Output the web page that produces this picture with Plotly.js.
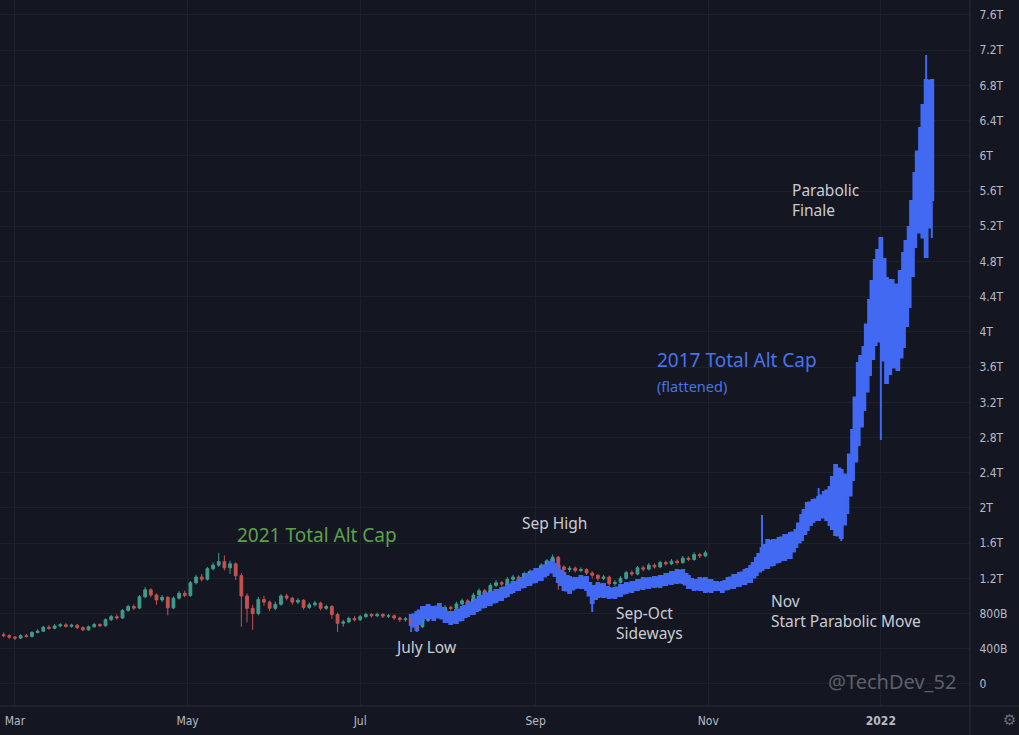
<!DOCTYPE html>
<html>
<head>
<meta charset="utf-8">
<script src="https://cdn.plot.ly/plotly-3.0.1.min.js"></script>
<style>
  html, body { margin: 0; padding: 0; background: #141722; }
  #chart { width: 1019px; height: 735px; }
</style>
</head>
<body>
<div id="chart"></div>
<script>
// 2021 Total Alt Cap, 2-day candles from 2021-02-25 (values in billions USD)
const alt2021Start = '2021-02-25';
const alt2021FirstOpen = 560;
const alt2021Close = [
  550, 532, 522, 548, 540, 585, 600, 645, 632, 660,
  672, 655, 668, 640, 615, 650, 676, 662, 730, 765,
  750, 836, 880, 862, 990, 1070, 1010, 955, 985, 865,
  975, 1030, 1005, 1150, 1215, 1190, 1310, 1350, 1390, 1320,
  1365, 1230, 1000, 860, 800, 960, 930, 860, 905, 1000,
  975, 930, 950, 870, 900, 920, 860, 880, 790, 690,
  705, 745, 730, 765, 790, 775, 790, 770, 775, 750,
  730, 740, 690, 650, 720, 790, 775, 845, 870, 860,
  910, 945, 930, 1010, 1060, 1045, 1120, 1150, 1135, 1190,
  1215, 1200, 1250, 1275, 1260, 1350, 1400, 1440, 1330, 1300,
  1315, 1290, 1300, 1260, 1235, 1200, 1215, 1140, 1155, 1200,
  1265, 1250, 1320, 1305, 1350, 1330, 1380, 1365, 1395, 1380,
  1430, 1415, 1470, 1455, 1490
];
const alt2021High = [
  585, 565, 545, 565, 570, 600, 620, 660, 668, 680,
  692, 690, 685, 680, 655, 665, 695, 690, 745, 785,
  790, 850, 900, 905, 1010, 1100, 1085, 1030, 1010, 1000,
  995, 1055, 1060, 1170, 1240, 1250, 1330, 1380, 1490, 1460,
  1400, 1380, 1260, 1030, 900, 990, 1000, 950, 935, 1020,
  1025, 990, 975, 965, 925, 945, 935, 900, 895, 810,
  730, 765, 770, 785, 810, 805, 810, 805, 795, 790,
  765, 760, 755, 710, 740, 810, 815, 865, 895, 890,
  935, 970, 965, 1035, 1085, 1080, 1145, 1180, 1170, 1215,
  1240, 1235, 1275, 1300, 1295, 1370, 1420, 1470, 1455, 1350,
  1340, 1335, 1325, 1315, 1280, 1250, 1240, 1230, 1180, 1225,
  1285, 1290, 1340, 1345, 1375, 1370, 1400, 1400, 1420, 1415,
  1455, 1450, 1495, 1490, 1515
];
const alt2021Low = [
  530, 515, 500, 510, 525, 530, 575, 590, 615, 620,
  645, 640, 640, 625, 600, 605, 640, 645, 650, 715,
  730, 740, 820, 840, 850, 975, 985, 900, 930, 780,
  850, 960, 985, 990, 1130, 1165, 1175, 1290, 1330, 1290,
  1250, 1180, 650, 700, 615, 780, 890, 830, 840, 890,
  950, 900, 910, 845, 850, 880, 835, 840, 740, 590,
  650, 690, 710, 715, 750, 755, 760, 750, 750, 730,
  705, 710, 665, 620, 635, 705, 750, 760, 830, 835,
  845, 895, 905, 915, 990, 1020, 1030, 1100, 1110, 1120,
  1170, 1180, 1185, 1230, 1235, 1245, 1330, 1385, 1070, 1230,
  1270, 1265, 1270, 1240, 1200, 1170, 1180, 1090, 1115, 1140,
  1185, 1225, 1235, 1280, 1290, 1310, 1315, 1345, 1350, 1355,
  1365, 1395, 1400, 1430, 1440
];

// 2017 Total Alt Cap (flattened), 2-day candles from 2021-07-19 (billions USD)
const alt2017Start = '2021-07-19';
const alt2017BodyTop = [
  784, 818, 875, 897, 875, 909, 841, 818, 841, 875,
  920, 954, 988, 1034, 1045, 1068, 1090, 1125, 1159, 1181,
  1250, 1272, 1306, 1329, 1386, 1409, 1340, 1261, 1215, 1204,
  1227, 1215, 1102, 1147, 1136, 1090, 1090, 1125, 1147, 1159,
  1181, 1204, 1204, 1215, 1227, 1250, 1272, 1295, 1295, 1227,
  1181, 1204, 1204, 1181, 1159, 1159, 1204, 1238, 1261, 1295,
  1340, 1431, 1545, 1636, 1636, 1659, 1693, 1715, 1749, 1920,
  2056, 2090, 2124, 2181, 2238, 2488, 2431, 2352, 2885, 3647,
  3828, 4362, 4817, 5067, 4612, 4590, 4510, 4896, 5191, 5805,
  6316, 6861, 6861
];
const alt2017BodyBottom = [
  670, 613, 727, 750, 727, 761, 704, 682, 693, 727,
  772, 795, 841, 875, 897, 931, 954, 1000, 1045, 1068,
  1102, 1125, 1159, 1181, 1238, 1272, 1159, 1068, 1034, 1090,
  1090, 1068, 920, 988, 988, 977, 977, 1000, 1034, 1045,
  1068, 1079, 1090, 1102, 1102, 1125, 1136, 1147, 1147, 1090,
  1068, 1068, 1045, 1045, 1068, 1045, 1079, 1090, 1113, 1136,
  1159, 1238, 1295, 1318, 1352, 1386, 1409, 1431, 1556, 1636,
  1749, 1840, 1863, 1897, 1806, 1693, 1659, 1943, 2317, 2715,
  3113, 3510, 3851, 3908, 3419, 3601, 3567, 3828, 4283, 4964,
  5271, 4851, 5498
];
const alt2017High = [
  784, 818, 875, 897, 875, 909, 841, 818, 841, 875,
  920, 954, 988, 1034, 1045, 1068, 1090, 1125, 1159, 1181,
  1250, 1272, 1306, 1329, 1386, 1443, 1340, 1261, 1215, 1204,
  1227, 1215, 1102, 1147, 1136, 1090, 1090, 1125, 1147, 1159,
  1181, 1204, 1204, 1215, 1227, 1250, 1272, 1295, 1295, 1227,
  1181, 1204, 1204, 1181, 1159, 1159, 1204, 1238, 1261, 1295,
  1340, 1431, 1920, 1636, 1636, 1659, 1693, 1715, 1749, 1920,
  2056, 2090, 2227, 2181, 2238, 2488, 2431, 2352, 2885, 3647,
  3828, 4362, 4817, 5067, 4612, 4590, 4510, 4896, 5191, 5805,
  6316, 7145, 6861
];
const alt2017Low = [
  591, 591, 727, 750, 727, 761, 704, 682, 693, 727,
  772, 795, 841, 875, 897, 931, 954, 1000, 1045, 1068,
  1102, 1125, 1159, 1181, 1238, 1272, 1159, 1068, 1034, 1090,
  1090, 1068, 818, 988, 988, 977, 977, 1000, 1034, 1045,
  1068, 1079, 1090, 1102, 1102, 1125, 1136, 1147, 1147, 1090,
  1068, 1068, 1045, 1045, 1068, 1045, 1079, 1090, 1113, 1136,
  1159, 1238, 1295, 1318, 1352, 1386, 1409, 1431, 1556, 1636,
  1749, 1840, 1863, 1897, 1806, 1693, 1624, 1943, 2317, 2715,
  3113, 3510, 3851, 2772, 3419, 3601, 3567, 3828, 4283, 4964,
  5271, 4851, 5067
];

// axis ticks
const xTickDates = ['2021-03-01', '2021-05-01', '2021-07-01', '2021-09-01', '2021-11-01', '2022-01-01'];
const xTickLabels = ['Mar', 'May', 'Jul', 'Sep', 'Nov', '<b>2022</b>'];
const yTickValues = [0, 400, 800, 1200, 1600, 2000, 2400, 2800, 3200, 3600, 4000,
  4400, 4800, 5200, 5600, 6000, 6400, 6800, 7200, 7600];
const yTickLabels = ['0', '400B', '800B', '1.2T', '1.6T', '2T', '2.4T', '2.8T', '3.2T', '3.6T', '4T',
  '4.4T', '4.8T', '5.2T', '5.6T', '6T', '6.4T', '6.8T', '7.2T', '7.6T'];

const BG = '#141722';
const GRID = '#1d212c';
const BORDER = '#2a2e39';
const UP = '#3f9c8c';
const DOWN = '#c4524f';
const BLUE = '#4169f2';
const TEXT = '#c9ccd4';
const UI_FONT = 'Noto Sans, Open Sans, DejaVu Sans, sans-serif';

// evenly spaced candle dates, one every two days
function candleDates(start, count) {
    const t0 = Date.parse(start + 'T00:00:00Z');
    const out = [];
    for (let i = 0; i < count; i++) {
        out.push(new Date(t0 + i * 2 * 86400000).toISOString().slice(0, 10));
    }
    return out;
}

const alt2021Open = [alt2021FirstOpen].concat(alt2021Close.slice(0, -1));
const alt2017Dates = candleDates(alt2017Start, alt2017BodyTop.length);

// stepped band under the 2017 candles so the flattened bodies read as one solid strip
const band2017Bottom = {
    type: 'scatter',
    mode: 'lines',
    x: alt2017Dates,
    y: alt2017BodyBottom,
    line: { shape: 'vhv', width: 0, color: BLUE },
    hoverinfo: 'skip',
    showlegend: false,
};
const band2017Top = {
    type: 'scatter',
    mode: 'lines',
    x: alt2017Dates,
    y: alt2017BodyTop,
    line: { shape: 'vhv', width: 0, color: BLUE },
    fill: 'tonexty',
    fillcolor: BLUE,
    hoverinfo: 'skip',
    showlegend: false,
};

const trace2017 = {
    type: 'candlestick',
    name: '2017 Total Alt Cap',
    x: alt2017Dates,
    open: alt2017BodyBottom,
    close: alt2017BodyTop,
    high: alt2017High,
    low: alt2017Low,
    increasing: { line: { color: BLUE, width: 2 }, fillcolor: BLUE },
    decreasing: { line: { color: BLUE, width: 2 }, fillcolor: BLUE },
    hoverinfo: 'skip',
    showlegend: false,
};

const trace2021 = {
    type: 'candlestick',
    name: '2021 Total Alt Cap',
    x: candleDates(alt2021Start, alt2021Close.length),
    open: alt2021Open,
    close: alt2021Close,
    high: alt2021High,
    low: alt2021Low,
    increasing: { line: { color: UP, width: 1 }, fillcolor: UP },
    decreasing: { line: { color: DOWN, width: 1 }, fillcolor: DOWN },
    hoverinfo: 'skip',
    showlegend: false,
};

function note(text, x, y, size, color, extra) {
    return Object.assign({
        text: text,
        xref: 'paper', yref: 'paper',
        x: x, y: y,
        xanchor: 'left', yanchor: 'middle',
        align: 'left',
        showarrow: false,
        font: { family: UI_FONT, size: size, color: color },
    }, extra || {});
}

const layout = {
    width: 1019,
    height: 735,
    paper_bgcolor: BG,
    plot_bgcolor: BG,
    margin: { l: 0, r: 49, t: 0, b: 29 },
    showlegend: false,
    font: { family: 'DejaVu Sans Condensed, Liberation Sans Narrow, DejaVu Sans, sans-serif', size: 12, color: '#b8bbc4' },
    xaxis: {
        type: 'date',
        range: ['2021-02-23 17:00', '2022-02-01 12:00'],
        tickvals: xTickDates,
        ticktext: xTickLabels,
        showgrid: true,
        gridcolor: GRID,
        zeroline: false,
        showline: false,
        ticks: 'outside',
        ticklen: 4,
        tickcolor: BG,
        rangeslider: { visible: false },
        fixedrange: true,
    },
    yaxis: {
        side: 'right',
        range: [-250, 7770],
        tickvals: yTickValues,
        ticktext: yTickLabels,
        showgrid: true,
        gridcolor: GRID,
        zeroline: false,
        showline: false,
        ticks: 'outside',
        ticklen: 6,
        tickcolor: BG,
        fixedrange: true,
    },
    // pane borders: time scale divider runs under the price column too
    shapes: [
        { type: 'line', xref: 'paper', yref: 'paper', x0: 0, x1: 1.06, y0: 0, y1: 0,
          line: { color: BORDER, width: 1 } },
        { type: 'line', xref: 'paper', yref: 'paper', x0: 1, x1: 1, y0: -0.05, y1: 1,
          line: { color: BORDER, width: 1 } },
    ],
    annotations: [
        note('2021 Total Alt Cap', 0.2423, 0.2422, 19, '#5fa04e'),
        note('Sep High', 0.536, 0.2592, 15.5, TEXT),
        note('July Low', 0.405, 0.0836, 15.5, TEXT),
        note('Sep-Oct<br>Sideways', 0.633, 0.1176, 15.5, TEXT),
        note('Nov<br>Start Parabolic Move', 0.7928, 0.1346, 15.5, TEXT),
        note('Parabolic<br>Finale', 0.8144, 0.7174, 15.5, TEXT),
        note('2017 Total Alt Cap', 0.6753, 0.4901, 19, '#4a72ea'),
        note('(flattened)', 0.6753, 0.4533, 14.5, '#4a72ea'),
        note('@TechDev_52', 0.9876, 0.0354, 20, '#5c5f6a', { xanchor: 'right' }),
        note('⚙', 1.0412, -0.0198, 15, '#6a6d78', { xanchor: 'center', font: { family: 'DejaVu Sans', size: 15, color: '#6a6d78' } }),
    ],
};

Plotly.newPlot('chart', [band2017Bottom, band2017Top, trace2017, trace2021], layout, { displayModeBar: false, staticPlot: true });
</script>
</body>
</html>
